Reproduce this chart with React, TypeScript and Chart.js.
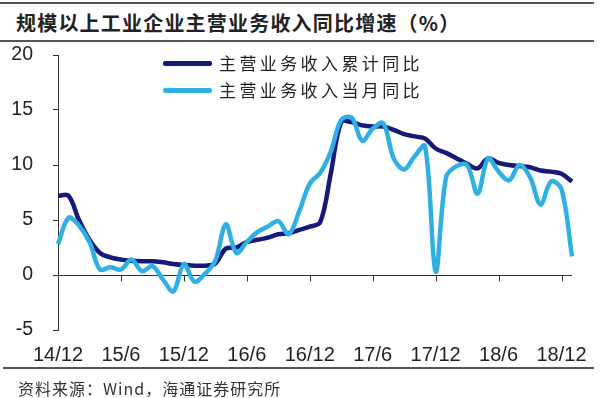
import React, { useEffect, useRef } from "react";
import { Chart, registerables } from "chart.js";

Chart.register(...registerables);

const months = [
  "14/12",
  "15/1", "15/2", "15/3", "15/4", "15/5", "15/6", "15/7", "15/8", "15/9", "15/10", "15/11", "15/12",
  "16/1", "16/2", "16/3", "16/4", "16/5", "16/6", "16/7", "16/8", "16/9", "16/10", "16/11", "16/12",
  "17/1", "17/2", "17/3", "17/4", "17/5", "17/6", "17/7", "17/8", "17/9", "17/10", "17/11", "17/12",
  "18/1", "18/2", "18/3", "18/4", "18/5", "18/6", "18/7", "18/8", "18/9", "18/10", "18/11", "18/12",
  "19/1",
];

const tickLabels = ["14/12", "15/6", "15/12", "16/6", "16/12", "17/6", "17/12", "18/6", "18/12"];

const cumulative = [
  7.2, 7.2, 5.0, 3.2, 2.0, 1.6, 1.4, 1.3, 1.25, 1.25,
  1.15, 1.0, 0.9, 0.85, 0.85, 1.05, 2.4, 2.5, 3.0, 3.2,
  3.4, 3.7, 3.8, 4.1, 4.4, 4.8, 9.2, 13.9, 13.9, 13.6,
  13.5, 13.5, 13.2, 12.8, 12.6, 12.4, 11.5, 11.1, 10.6, 10.1,
  9.7, 10.6, 10.2, 10.0, 9.9, 9.8, 9.5, 9.4, 9.2, 8.5,
];

const monthly = [
  2.8, 5.2, 4.5, 3.0, 0.5, 0.7, 0.5, 1.4, 0.35, 0.8,
  -0.4, -1.5, 1.0, -0.6, 0.1, 1.3, 4.6, 2.0, 3.0, 3.9,
  4.4, 4.9, 3.7, 5.8, 8.3, 9.3, 11.2, 14.1, 14.3, 12.2,
  13.3, 13.8, 10.6, 9.6, 10.8, 11.7, 0.3, 8.9, 9.9, 10.0,
  7.4, 10.6, 9.4, 8.6, 10.0, 8.9, 6.4, 8.5, 7.8, 1.7,
];

const seriesNames = ["主营业务收入累计同比", "主营业务收入当月同比"];
const titleText = "规模以上工业企业主营业务收入同比增速（%）";
const sourceText = "资料来源：Wind，海通证券研究所";

const DARK = "#14197a";
const LIGHT = "#2eb0e4";
const AXIS = "#333333";
const RULE = "#555555";

const zeroAxisPlugin = {
  id: "zeroAxis",
  beforeDatasetsDraw(chart: any) {
    const { ctx, chartArea, scales } = chart;
    const x = scales.x;
    const y = scales.y;
    const y0 = Math.round(y.getPixelForValue(0)) + 0.5;
    ctx.save();
    ctx.strokeStyle = AXIS;
    ctx.lineWidth = 1;
    ctx.beginPath();
    ctx.moveTo(chartArea.left, y0);
    ctx.lineTo(chartArea.right, y0);
    months.forEach((m, i) => {
      if (tickLabels.includes(m)) {
        const px = Math.round(x.getPixelForValue(i)) + 0.5;
        ctx.moveTo(px, y0);
        ctx.lineTo(px, y0 + 6);
      }
    });
    ctx.stroke();
    ctx.restore();
  },
};

export default function App() {
  const ref = useRef<HTMLCanvasElement | null>(null);

  useEffect(() => {
    if (!ref.current) return;
    const chart = new Chart(ref.current, {
      type: "line",
      data: {
        labels: months,
        datasets: [
          {
            label: seriesNames[0],
            data: cumulative,
            borderColor: DARK,
            backgroundColor: DARK,
            borderWidth: 4.5,
            pointRadius: 0,
            tension: 0.35,
            order: 2,
          },
          {
            label: seriesNames[1],
            data: monthly,
            borderColor: LIGHT,
            backgroundColor: LIGHT,
            borderWidth: 4.5,
            pointRadius: 0,
            tension: 0.35,
            order: 1,
          },
        ],
      },
      options: {
        animation: false,
        responsive: false,
        devicePixelRatio: 1,
        layout: { padding: { left: 0, top: 55, right: 28, bottom: 0 } },
        plugins: {
          legend: { display: false },
          tooltip: { enabled: false },
          title: { display: false },
        },
        scales: {
          x: {
            type: "category",
            offset: false,
            grid: { display: false, drawTicks: false },
            border: { display: false },
            ticks: {
              autoSkip: false,
              maxRotation: 0,
              minRotation: 0,
              padding: 13,
              color: "#222",
              font: { family: "'Liberation Sans', Arial, sans-serif", size: 20 },
              callback: (_v: any, idx: number) =>
                tickLabels.includes(months[idx]) ? months[idx] : "",
            },
            afterFit: (s: any) => {
              s.height = 68;
            },
          },
          y: {
            min: -5,
            max: 20,
            ticks: {
              stepSize: 5,
              padding: 20,
              color: "#222",
              font: { family: "'Liberation Sans', Arial, sans-serif", size: 19.5 },
            },
            grid: {
              drawOnChartArea: false,
              drawTicks: true,
              tickLength: 5,
              color: AXIS,
            },
            border: { display: true, color: AXIS, width: 1 },
            afterFit: (s: any) => {
              s.width = 58;
            },
          },
        },
      },
      plugins: [zeroAxisPlugin],
    });
    return () => chart.destroy();
  }, []);

  const legendRow = (color: string, text: string, top: number) => (
    <div style={{ position: "absolute", left: 163, top, height: 20, display: "flex", alignItems: "center" }}>
      <div style={{ width: 49, height: 5, background: color, borderRadius: 2 }} />
      <span
        style={{
          marginLeft: 7,
          fontFamily: "'Noto Sans CJK SC', sans-serif",
          fontSize: 17,
          letterSpacing: 3.4,
          color: "#222",
          whiteSpace: "nowrap",
          lineHeight: "20px",
        }}
      >
        {text}
      </span>
    </div>
  );

  return (
    <div
      style={{
        position: "absolute",
        left: 0,
        top: 0,
        width: 600,
        height: 398,
        background: "#fff",
        overflow: "hidden",
      }}
    >
      <div style={{ position: "absolute", left: 0, top: 2, width: 594, height: 2, background: RULE }} />
      <div
        style={{
          position: "absolute",
          left: 16,
          top: 9,
          fontFamily: "'Noto Sans CJK SC', sans-serif",
          fontWeight: 700,
          fontSize: 20,
          letterSpacing: 1.2,
          lineHeight: "28px",
          color: "#222",
          whiteSpace: "nowrap",
        }}
      >
        {titleText}
      </div>
      <div style={{ position: "absolute", left: 0, top: 40, width: 594, height: 2, background: RULE }} />
      <canvas
        ref={ref}
        width={600}
        height={398}
        style={{ position: "absolute", left: 0, top: 0, width: 600, height: 398 }}
      />
      {legendRow(DARK, seriesNames[0], 53)}
      {legendRow(LIGHT, seriesNames[1], 80)}
      <div style={{ position: "absolute", left: 3, top: 367, width: 591, height: 2, background: RULE }} />
      <div
        style={{
          position: "absolute",
          left: 18,
          top: 377,
          fontFamily: "'Noto Sans CJK SC', sans-serif",
          fontSize: 16,
          letterSpacing: 1,
          lineHeight: "22px",
          color: "#333",
          whiteSpace: "nowrap",
        }}
      >
        {sourceText}
      </div>
    </div>
  );
}
